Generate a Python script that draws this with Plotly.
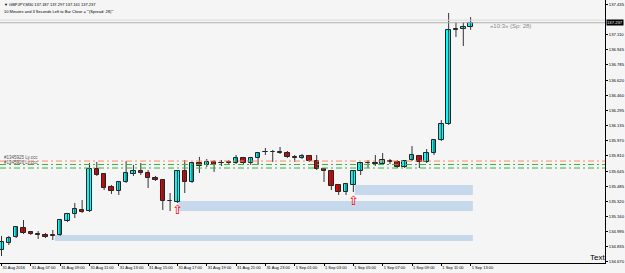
import plotly.graph_objects as go

# ---- data (GBPJPY M30, bars from 31 Aug 2016 05:00) ----
opens = [134.798, 134.874, 134.938, 135.035, 134.992, 134.965, 134.960, 134.960, 134.960, 135.110,
         135.185, 135.228, 135.217, 135.668, 135.614, 135.475, 135.432, 135.528, 135.614, 135.646,
         135.625, 135.571, 135.550, 135.324, 135.313, 135.646, 135.528, 135.732, 135.711, 135.743,
         135.732, 135.727, 135.732, 135.786, 135.732, 135.786, 135.850, 135.845, 135.850, 135.839,
         135.797, 135.786, 135.807, 135.753, 135.668, 135.646, 135.496, 135.421, 135.496, 135.646,
         135.732, 135.732, 135.721, 135.753, 135.743, 135.689, 135.764, 135.807, 135.743, 135.839,
         135.979, 136.150, 137.164, 137.170, 137.187]
highs = [134.949, 134.949, 135.056, 135.120, 135.002, 135.002, 134.981, 135.013, 135.132, 135.196,
         135.303, 135.335, 135.732, 135.743, 135.625, 135.496, 135.539, 135.753, 135.711, 135.732,
         135.657, 135.593, 135.560, 135.410, 135.657, 135.764, 135.743, 135.797, 135.775, 135.764,
         135.764, 135.764, 135.818, 135.797, 135.797, 135.850, 135.893, 135.872, 135.904, 135.861,
         135.818, 135.829, 135.818, 135.818, 135.678, 135.657, 135.507, 135.518, 135.657, 135.743,
         135.764, 135.818, 135.839, 135.775, 135.764, 135.764, 135.914, 135.818, 135.882, 135.989,
         136.193, 137.342, 137.245, 137.245, 137.297]
lows = [134.734, 134.852, 134.927, 134.970, 134.960, 134.917, 134.927, 134.906, 134.949, 135.099,
        135.142, 135.196, 135.206, 135.593, 135.442, 135.400, 135.389, 135.518, 135.593, 135.603,
        135.464, 135.539, 135.228, 135.217, 135.303, 135.410, 135.518, 135.625, 135.689, 135.636,
        135.700, 135.721, 135.721, 135.721, 135.711, 135.711, 135.818, 135.743, 135.829, 135.786,
        135.743, 135.775, 135.743, 135.657, 135.528, 135.442, 135.389, 135.389, 135.421, 135.603,
        135.678, 135.700, 135.711, 135.721, 135.678, 135.678, 135.753, 135.678, 135.732, 135.818,
        135.968, 136.140, 137.084, 136.987, 137.161]
closes = [134.884, 134.927, 135.045, 134.981, 134.970, 134.960, 134.938, 134.949, 135.120, 135.185,
          135.238, 135.206, 135.668, 135.603, 135.464, 135.432, 135.528, 135.625, 135.646, 135.625,
          135.571, 135.550, 135.324, 135.319, 135.646, 135.528, 135.732, 135.700, 135.743, 135.711,
          135.727, 135.743, 135.786, 135.732, 135.786, 135.839, 135.845, 135.850, 135.839, 135.797,
          135.791, 135.807, 135.753, 135.668, 135.646, 135.485, 135.421, 135.507, 135.646, 135.732,
          135.727, 135.721, 135.764, 135.743, 135.689, 135.753, 135.818, 135.743, 135.839, 135.979,
          136.150, 137.159, 137.170, 137.191, 137.237]

x_tick_bars = [0, 4, 8, 12, 16, 20, 24, 28, 32, 36, 40, 44, 48, 52, 56, 60, 64]
x_tick_labels = ["31 Aug 2016", "31 Aug 07:00", "31 Aug 09:00", "31 Aug 11:00", "31 Aug 13:00",
                 "31 Aug 15:00", "31 Aug 17:00", "31 Aug 19:00", "31 Aug 21:00", "31 Aug 23:00",
                 "1 Sep 01:00", "1 Sep 03:00", "1 Sep 05:00", "1 Sep 07:00", "1 Sep 09:00",
                 "1 Sep 11:00", "1 Sep 13:00"]
y_tick_vals = [134.670, 134.835, 134.995, 135.160, 135.320, 135.485, 135.645, 135.810, 135.970,
               136.135, 136.295, 136.460, 136.620, 136.785, 136.945, 137.110, 137.435]
y_tick_labels = ["%.3f" % v for v in y_tick_vals]

bid_price = 137.237
ask_price = 137.265

# supply/demand zones: start bar, end bar, top, bottom
zone_start = [7.3, 24.1, 48.2]
zone_end = [64.3, 64.3, 64.3]
zone_top = [134.960, 135.324, 135.496]
zone_bottom = [134.895, 135.217, 135.389]

# horizontal lines
hline_prices = [135.753, 135.716, 135.678]
hline_colors = ["#ff8c5a", "#3cb043", "#3cb043"]

# line labels (overlapping in the original)
line_label_prices = [135.753, 135.700]
line_label_texts = ["#1345925 Ly.ccc", "#1345926 Ly.ccc"]

# signal arrows
arrow_bars = [24, 48]
arrow_prices = [135.222, 135.318]

# ---- figure ----
fig = go.Figure()

n = len(opens)
idx = list(range(n))

# wicks
wx, wy = [], []
for i in idx:
    wx += [i, i, None]
    wy += [lows[i], highs[i], None]
fig.add_trace(go.Scatter(x=wx, y=wy, mode="lines", line=dict(color="#333333", width=1),
                         hoverinfo="skip", showlegend=False))

bull = [i for i in idx if closes[i] >= opens[i]]
bear = [i for i in idx if closes[i] < opens[i]]
for sel, col in ((bull, "#00ffff"), (bear, "#ee0000")):
    fig.add_trace(go.Bar(
        x=sel,
        base=[min(opens[i], closes[i]) for i in sel],
        y=[max(abs(closes[i] - opens[i]), 0.004) for i in sel],
        width=0.6,
        marker=dict(color=col, line=dict(color="#222222", width=1)),
        showlegend=False, hoverinfo="skip"))

# arrows
fig.add_trace(go.Scatter(x=arrow_bars, y=arrow_prices, mode="text", text=["⇧"] * len(arrow_bars),
                         textfont=dict(family="DejaVu Sans", size=13, color="#ff0000"),
                         showlegend=False, hoverinfo="skip"))

shapes = []
for x0, x1, t, b in zip(zone_start, zone_end, zone_top, zone_bottom):
    shapes.append(dict(type="rect", xref="x", yref="y", x0=x0, x1=x1, y0=b, y1=t,
                       fillcolor="#c6d8ec", line=dict(width=0), layer="below"))
for p, c in zip(hline_prices, hline_colors):
    shapes.append(dict(type="line", xref="paper", yref="y", x0=0, x1=1, y0=p, y1=p,
                       line=dict(color=c, width=1, dash="6px,3px,2px,3px")))
shapes.append(dict(type="line", xref="paper", yref="y", x0=0, x1=1, y0=ask_price, y1=ask_price,
                   line=dict(color="#d8d8d8", width=1)))
shapes.append(dict(type="line", xref="paper", yref="y", x0=0, x1=1, y0=bid_price, y1=bid_price,
                   line=dict(color="#b0b0b0", width=1)))

annotations = [
    dict(xref="paper", yref="paper", x=0.003, y=1, xanchor="left", yanchor="top", showarrow=False,
         text="▼ GBPJPY,M30 137.187 137.297 137.161 137.237",
         font=dict(family="Liberation Sans", size=4, color="#000000")),
    dict(xref="paper", yref="paper", x=0.003, y=0.972, xanchor="left", yanchor="top", showarrow=False,
         text="10 Minutes and 3 Seconds Left to Bar Close = \"'(Spread: 28)'\"",
         font=dict(family="Liberation Sans", size=4, color="#000000")),
    dict(xref="x", yref="y", x=66.4, y=137.205, xanchor="left", yanchor="middle", showarrow=False,
         text="«10:3» (Sp: 28)", font=dict(family="Liberation Sans", size=6, color="#8a8a8a")),
    dict(xref="paper", yref="y", x=1, y=bid_price, xanchor="left", yanchor="middle", showarrow=False,
         xshift=1, text="137.237", bgcolor="#000000", borderpad=0,
         font=dict(family="Liberation Sans", size=4.2, color="#ffffff")),
    dict(xref="paper", yref="paper", x=1, y=0, xanchor="right", yanchor="bottom", showarrow=False,
         xshift=2, yshift=-1, text="Text",
         font=dict(family="Liberation Sans", size=8, color="#000000")),
]
for p, t in zip(line_label_prices, line_label_texts):
    annotations.append(dict(xref="paper", yref="y", x=0.004, y=p, xanchor="left", yanchor="bottom",
                            showarrow=False, yshift=-1, text=t,
                            font=dict(family="Liberation Sans", size=4.5, color="#555555")))

fig.update_layout(
    width=625, height=273,
    margin=dict(l=0, r=20, t=0, b=10, autoexpand=False),
    paper_bgcolor="#f5f5f5", plot_bgcolor="#f5f5f5",
    barmode="overlay", bargap=0,
    shapes=shapes, annotations=annotations,
    showlegend=False,
    xaxis=dict(range=[-0.205, 82.33], showgrid=False, zeroline=False,
               tickmode="array", tickvals=x_tick_bars, ticktext=x_tick_labels,
               tickangle=0, automargin=False,
               ticks="outside", ticklen=2, tickcolor="#000000",
               ticklabelposition="outside right",
               tickfont=dict(family="Liberation Sans", size=4, color="#000000"),
               showline=True, linecolor="#000000", linewidth=1, fixedrange=True),
    yaxis=dict(range=[134.659, 137.481], side="right", showgrid=False, zeroline=False,
               tickmode="array", tickvals=y_tick_vals, ticktext=y_tick_labels,
               automargin=False,
               ticks="outside", ticklen=2, tickcolor="#000000",
               tickfont=dict(family="Liberation Sans", size=4.2, color="#000000"),
               showline=True, linecolor="#000000", linewidth=1, fixedrange=True),
)

fig.write_html("out.html")
